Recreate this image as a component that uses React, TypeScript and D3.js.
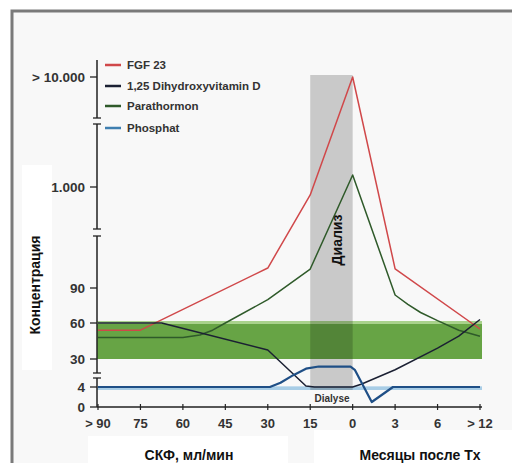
import React from "react";
import * as d3 from "d3";

const xCategories = ["> 90", "75", "60", "45", "30", "15", "0", "3", "6", "> 12"];
const yTickValues = [0, 4, 30, 60, 90, 1000, 10000];
const yTickLabels = ["0", "4", "30", "60", "90", "1.000", "> 10.000"];

// series: [x position (category index), concentration]
const fgf23: [number, number][] = [[0, 54], [1, 54], [4, 270], [5, 928], [6, 10000], [7, 263], [9, 55]];
const vitaminD: [number, number][] = [[0, 60], [1.5, 60], [4, 37.5], [4.9, 5], [5.1, 4], [6, 4], [6.2, 6.5], [7, 20], [8, 39], [8.5, 49], [9, 63]];
const parathormon: [number, number][] = [[0, 48], [2, 48], [2.4, 50], [2.7, 54], [3, 60], [4, 80], [5, 261], [6, 1980], [7, 84], [7.3, 76], [7.6, 69], [8, 62], [8.5, 54], [9, 49]];
const phosphat: [number, number][] = [[0, 4], [4.05, 4], [4.3, 8], [4.6, 15], [4.9, 21], [5.2, 23], [5.95, 23], [6.05, 20], [6.45, 1], [6.95, 4], [9, 4]];

const normalGreen = [30, 60];
const normalBlue = [3.4, 4.6];
const dialysisRange = [5, 6];

const legendNames = ["FGF 23", "1,25 Dihydroxyvitamin D", "Parathormon", "Phosphat"];
const legendColors = ["#d0484a", "#1b2033", "#2f5a2a", "#3f7fb0"];

export default function App() {
  const W = 512, H = 463;
  const x = d3.scaleLinear().domain([0, 9]).range([98, 480]);
  const y = d3.scaleLinear().domain(yTickValues).range([407, 387, 359, 323, 288, 187, 77]);
  const line = d3.line<[number, number]>().x(d => x(d[0])).y(d => y(d[1]));
  const font = "'Liberation Sans', Arial, sans-serif";
  const axisX0 = 97;
  const seriesList = [
    { d: line(fgf23), c: legendColors[0] },
    { d: line(parathormon), c: legendColors[2] },
    { d: line(vitaminD), c: legendColors[1] },
    { d: line(phosphat), c: "#1f4f86" },
  ];
  const segs = [[60, 118], [124, 229], [236, 373], [378, 407]];
  return (
    <svg width={W} height={H} style={{ position: "absolute", left: 0, top: 0 }}>
      <rect x={0} y={0} width={W} height={H} fill="#ffffff" />
      <rect x={12} y={11} width={W + 10} height={H + 10} fill="#f8f8f8" stroke="#7a7a7a" strokeWidth={3} />
      <rect x={22} y={165} width={30} height={205} fill="#ffffff" />
      <rect x={88} y={436} width={200} height={30} fill="#ffffff" />
      <rect x={314} y={430} width={200} height={36} fill="#ffffff" />

      <rect x={axisX0} y={y(normalGreen[1])} width={x(9) + 2 - axisX0} height={y(normalGreen[0]) - y(normalGreen[1])} fill="#67a445" />
      <rect x={axisX0} y={y(normalGreen[1]) - 2} width={x(9) + 2 - axisX0} height={3} fill="#a9d28c" />
      <rect x={axisX0} y={y(normalBlue[1])} width={x(9) + 2 - axisX0} height={y(normalBlue[0]) - y(normalBlue[1])} fill="#a8cde6" />
      <rect x={x(dialysisRange[0])} y={75} width={x(dialysisRange[1]) - x(dialysisRange[0])} height={315} fill="#000" opacity={0.19} />

      {seriesList.map((s, i) => (
        <path key={i} d={s.d || ""} fill="none" stroke={s.c} strokeWidth={i === 3 ? 2.2 : 1.5} strokeLinejoin="round" />
      ))}

      {segs.map((s, i) => (
        <g key={i}>
          <line x1={axisX0} x2={axisX0} y1={s[0]} y2={s[1]} stroke="#222" strokeWidth={1.5} />
          {i > 0 && <line x1={axisX0 - 4} x2={axisX0 + 4} y1={s[0]} y2={s[0]} stroke="#222" strokeWidth={1.3} />}
          {i < segs.length - 1 && <line x1={axisX0 - 4} x2={axisX0 + 4} y1={s[1]} y2={s[1]} stroke="#222" strokeWidth={1.3} />}
        </g>
      ))}
      {yTickValues.map((v, i) => (
        <g key={v}>
          <line x1={axisX0 - 7} x2={axisX0} y1={y(v)} y2={y(v)} stroke="#222" strokeWidth={1.3} />
          <text x={85} y={y(v)} dy="0.35em" textAnchor="end" fontFamily={font} fontWeight="bold" fontSize={13.5} fill="#333">{yTickLabels[i]}</text>
        </g>
      ))}
      <line x1={axisX0} x2={x(9) + 2} y1={407} y2={407} stroke="#222" strokeWidth={1.5} />
      {xCategories.map((c, i) => (
        <g key={c}>
          <line x1={x(i)} x2={x(i)} y1={404} y2={410} stroke="#222" strokeWidth={1.2} />
          <text x={x(i)} y={423} dy="0.35em" textAnchor="middle" fontFamily={font} fontWeight="bold" fontSize={13} fill="#333">{c}</text>
        </g>
      ))}

      {legendNames.map((n, i) => {
        const ly = [65, 86, 106, 128][i];
        return (
          <g key={n}>
            <line x1={105} x2={121} y1={ly} y2={ly} stroke={legendColors[i]} strokeWidth={2.5} />
            <text x={127} y={ly} dy="0.35em" fontFamily={font} fontWeight="bold" fontSize={11.5} fill="#333">{n}</text>
          </g>
        );
      })}

      <text x={332} y={398} dy="0.35em" textAnchor="middle" fontFamily={font} fontWeight="bold" fontSize={10} fill="#333">Dialyse</text>
      <text transform={`translate(${337},${240}) rotate(-90)`} textAnchor="middle" dy="0.35em" fontFamily={font} fontWeight="bold" fontSize={14} fill="#111">Диализ</text>
      <text transform={`translate(${35},${285}) rotate(-90)`} textAnchor="middle" dy="0.35em" fontFamily={font} fontWeight="bold" fontSize={14} fill="#111">Концентрация</text>
      <text x={189} y={455} dy="0.35em" textAnchor="middle" fontFamily={font} fontWeight="bold" fontSize={14} fill="#111">СКФ, мл/мин</text>
      <text x={420} y={455} dy="0.35em" textAnchor="middle" fontFamily={font} fontWeight="bold" fontSize={14} fill="#111">Месяцы после Tx</text>
    </svg>
  );
}
